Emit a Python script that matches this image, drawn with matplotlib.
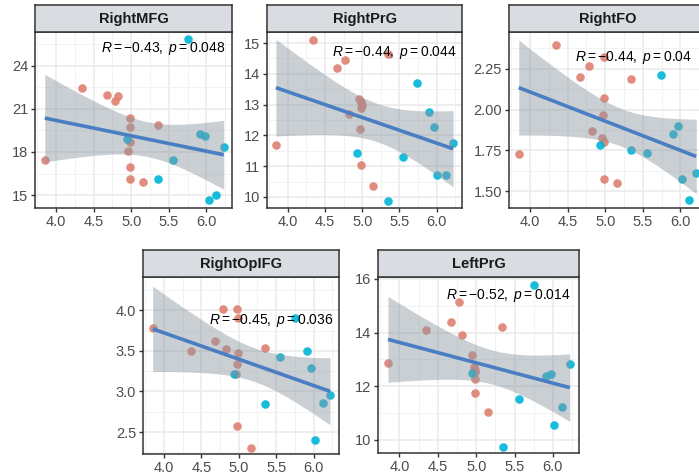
import numpy as np
import matplotlib
matplotlib.use("Agg")
import matplotlib.pyplot as plt
from matplotlib.ticker import FixedLocator, FormatStrFormatter

plt.rcParams["font.family"] = ["Liberation Sans", "DejaVu Sans"]
plt.rcParams["mathtext.fontset"] = "custom"
plt.rcParams["mathtext.rm"] = "Liberation Sans"
plt.rcParams["mathtext.it"] = "Liberation Sans:italic"
plt.rcParams["mathtext.bf"] = "Liberation Sans:bold"

# ---------------- data ----------------
panel_names = ["RightMFG", "RightPrG", "RightFO", "RightOpIFG", "LeftPrG"]
stat_labels = [r"$R = {-}0.43,\ p = 0.048$", r"$R = {-}0.44,\ p = 0.044$",
               r"$R = {-}0.44,\ p = 0.04$", r"$R = {-}0.45,\ p = 0.036$",
               r"$R = {-}0.52,\ p = 0.014$"]

mfg_red_x = [3.85, 4.35, 4.68, 4.83, 4.78, 4.98, 4.99, 5.35, 4.98, 4.96, 4.99, 4.99, 5.16]
mfg_red_y = [17.44, 22.46, 21.99, 21.87, 21.53, 20.38, 19.73, 19.87, 18.69, 18.07, 16.96, 16.10, 15.92]
mfg_blue_x = [4.94, 5.36, 5.56, 5.76, 5.91, 5.98, 6.03, 6.13, 6.23]
mfg_blue_y = [18.88, 16.10, 17.44, 25.85, 19.22, 19.10, 14.65, 15.00, 18.37]

prg_red_x = [3.84, 4.34, 4.66, 4.77, 5.34, 4.95, 4.98, 4.98, 4.82, 4.97, 4.98, 5.15, 4.99]
prg_red_y = [11.70, 15.10, 14.18, 14.44, 14.66, 13.19, 13.10, 12.89, 12.70, 12.21, 11.05, 10.35, 13.00]
prg_blue_x = [4.93, 5.34, 5.55, 5.74, 5.90, 5.97, 6.01, 6.12, 6.22]
prg_blue_y = [11.43, 9.87, 11.31, 13.70, 12.75, 12.26, 10.70, 10.70, 11.74]

fo_red_x = [3.85, 4.35, 4.67, 4.78, 4.82, 4.98, 4.98, 4.97, 4.96, 4.99, 4.98, 5.15, 5.34]
fo_red_y = [1.73, 2.394, 2.197, 2.268, 1.868, 2.321, 2.069, 1.968, 1.827, 1.80, 1.573, 1.55, 2.189]
fo_blue_x = [4.93, 5.34, 5.55, 5.74, 5.90, 5.97, 6.02, 6.11, 6.21]
fo_blue_y = [1.785, 1.754, 1.736, 2.212, 1.848, 1.898, 1.573, 1.447, 1.608]

opifg_red_x = [3.85, 4.36, 4.68, 4.79, 4.83, 4.98, 4.99, 4.99, 4.98, 4.96, 4.98, 5.16, 5.35]
opifg_red_y = [3.78, 3.50, 3.62, 4.02, 3.52, 4.02, 3.90, 3.47, 3.34, 3.22, 2.58, 2.31, 3.54]
opifg_blue_x = [4.93, 5.35, 5.55, 5.75, 5.91, 5.97, 6.02, 6.12, 6.22]
opifg_blue_y = [3.21, 2.84, 3.43, 3.91, 3.50, 3.29, 2.40, 2.86, 2.96]

lprg_red_x = [3.85, 4.35, 4.67, 4.78, 4.82, 4.95, 4.97, 4.99, 4.98, 4.99, 5.16, 5.34, 4.98]
lprg_red_y = [12.85, 14.10, 14.38, 15.13, 13.92, 13.16, 12.73, 12.54, 12.26, 11.76, 11.05, 14.21, 12.60]
lprg_blue_x = [4.94, 5.35, 5.56, 5.75, 5.91, 5.97, 6.02, 6.12, 6.22]
lprg_blue_y = [12.48, 9.74, 11.53, 15.78, 12.39, 12.44, 10.55, 11.21, 12.83]

red_x = [mfg_red_x, prg_red_x, fo_red_x, opifg_red_x, lprg_red_x]
red_y = [mfg_red_y, prg_red_y, fo_red_y, opifg_red_y, lprg_red_y]
blue_x = [mfg_blue_x, prg_blue_x, fo_blue_x, opifg_blue_x, lprg_blue_x]
blue_y = [mfg_blue_y, prg_blue_y, fo_blue_y, opifg_blue_y, lprg_blue_y]

x_ticks = [4.0, 4.5, 5.0, 5.5, 6.0]
y_ticks = [[15, 18, 21, 24], [10, 11, 12, 13, 14, 15], [1.50, 1.75, 2.00, 2.25],
           [2.5, 3.0, 3.5, 4.0], [10, 12, 14, 16]]
y_fmt = ["%d", "%d", "%.2f", "%.1f", "%d"]
y_lims = [(14.1, 26.35), (9.64, 15.36), (1.396, 2.476), (2.23, 4.41), (9.51, 16.07)]
label_y = [25.18, 14.70, 2.32, 3.88, 15.37]

# ---------------- layout (pixels) ----------------
W, H = 699, 476
# left, right, top, bottom of panel area
boxes = [(35, 232, 32, 208), (267, 462, 32, 208), (509, 706, 32, 208),
         (143, 339, 277, 454), (378, 579, 277, 453)]
strip_h = 27

RED = "#DE8070"
BLUE = "#00B5D9"
LINE = "#4A7EC2"
RIB = "#8A95A0"
DARK = "#333333"

fig = plt.figure(figsize=(W / 100, H / 100), dpi=100)

for i in range(5):
    l, r, t, b = boxes[i]
    ax = fig.add_axes([l / W, (H - b) / H, (r - l) / W, (b - t) / H])
    ax.set_xlim(3.72, 6.34)
    ax.set_ylim(*y_lims[i])
    xt = x_ticks
    yt = y_ticks[i]
    ax.xaxis.set_major_locator(FixedLocator(xt))
    ax.yaxis.set_major_locator(FixedLocator(yt))
    xm = [a + 0.25 for a in [3.5] + xt]
    dy = yt[1] - yt[0]
    ym = [yt[0] - dy / 2] + [a + dy / 2 for a in yt]
    ax.xaxis.set_minor_locator(FixedLocator(xm))
    ax.yaxis.set_minor_locator(FixedLocator(ym))
    ax.yaxis.set_major_formatter(FormatStrFormatter(y_fmt[i]))
    ax.grid(which="major", color="#EBEBEB", lw=1.2, zorder=0)
    ax.grid(which="minor", color="#F2F2F2", lw=0.7, zorder=0)
    ax.set_axisbelow(True)
    ax.tick_params(which="major", length=3, width=1.0, color=DARK,
                   labelsize=10.5, labelcolor="#4D4D4D", pad=2)
    ax.tick_params(which="minor", length=0)
    for s in ax.spines.values():
        s.set_color(DARK)
        s.set_linewidth(1.1)

    ax.scatter(red_x[i], red_y[i], s=38, color=RED, alpha=0.9, lw=0, zorder=2)
    ax.scatter(blue_x[i], blue_y[i], s=38, color=BLUE, alpha=0.9, lw=0, zorder=2)

    xs = np.array(red_x[i] + blue_x[i])
    ys = np.array(red_y[i] + blue_y[i])
    n = len(xs)
    coef = np.polyfit(xs, ys, 1)
    xx = np.linspace(xs.min(), xs.max(), 80)
    yy = np.polyval(coef, xx)
    resid = ys - np.polyval(coef, xs)
    s_err = np.sqrt(np.sum(resid ** 2) / (n - 2))
    tval = 2.086  # t quantile 0.975, df = 20
    se = s_err * np.sqrt(1 / n + (xx - xs.mean()) ** 2 / np.sum((xs - xs.mean()) ** 2))
    ax.fill_between(xx, yy - tval * se, yy + tval * se, color=RIB, alpha=0.45,
                    lw=0, zorder=3)
    ax.plot(xx, yy, color=LINE, lw=2.6, zorder=4, solid_capstyle="butt")

    ax.text(4.6, label_y[i], stat_labels[i], fontsize=10, ha="left",
            va="center", color="black", zorder=5)

    # strip
    sax = fig.add_axes([l / W, (H - t) / H, (r - l) / W, strip_h / H])
    sax.set_facecolor("#D9DCE0")
    sax.set_xticks([])
    sax.set_yticks([])
    for s in sax.spines.values():
        s.set_color(DARK)
        s.set_linewidth(1.1)
    sax.text(0.5, 0.47, panel_names[i], transform=sax.transAxes, ha="center",
             va="center", fontsize=10.5, fontweight="bold", color="#1A1A1A")

fig.savefig("out.png", dpi=100)
